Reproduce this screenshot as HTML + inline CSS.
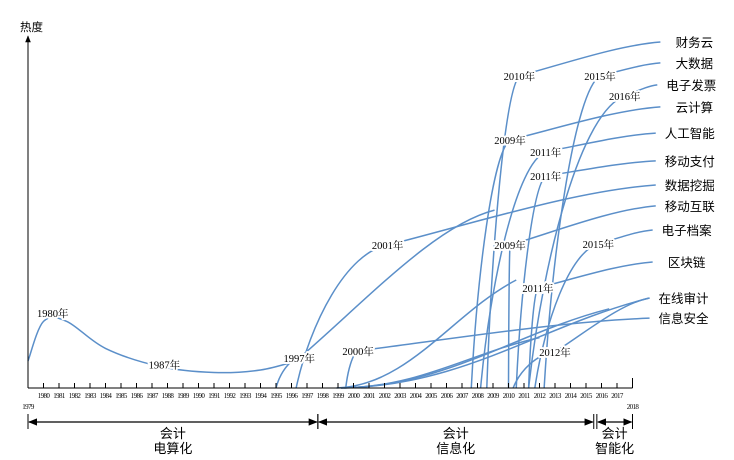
<!DOCTYPE html>
<html><head><meta charset="utf-8">
<style>
html,body{margin:0;padding:0;background:#fff;}
svg{display:block;}
.lbl{font-family:"Liberation Serif","Noto Serif CJK SC","Noto Sans CJK SC",serif;font-size:10.5px;fill:#000;paint-order:stroke;stroke:#fff;stroke-width:4px;stroke-linejoin:round;}
.nm{font-family:"Liberation Sans","Noto Sans CJK SC",sans-serif;font-size:12.5px;fill:#000;}
.yr{font-family:"Liberation Serif",serif;font-size:7px;fill:#000;letter-spacing:-0.6px;}
.ph{font-family:"Liberation Sans","Noto Sans CJK SC",sans-serif;font-size:13px;fill:#000;}
.crv{fill:none;stroke:#5b8fc9;stroke-width:1.5;}
</style></head>
<body>
<svg id="chart" width="734" height="460" viewBox="0 0 734 460" xmlns="http://www.w3.org/2000/svg">
<defs>
<marker id="ah" viewBox="0 0 10 10" refX="9" refY="5" markerWidth="7" markerHeight="7" orient="auto-start-reverse"><path d="M0,1 L10,5 L0,9 z" fill="#000"/></marker>
</defs>
<g id="curves"></g>
<g id="axes"></g>
<g id="labels"></g>
</svg>
<script>
// ---- data ----
const names = ["财务云","大数据","电子发票","云计算","人工智能","移动支付","数据挖掘","移动互联","电子档案","区块链","在线审计","信息安全"];
const startYears = [2008.6,2012.3,2011.3,2007.6,2008.2,2010.5,1996.3,2010.0,2011.7,2011.3,2010.3,1999.5];
const labelYears = [2010.7,2015.9,2017.5,2010.1,2012.4,2012.4,2002.2,2010.1,2015.8,2011.9,2013.0,2000.3];
const labelTexts = ["2010年","2015年","2016年","2009年","2011年","2011年","2001年","2009年","2015年","2011年","2012年","2000年"];
const labelVals = [86.7,86.7,81.1,68.9,65.6,58.9,39.7,39.7,40.0,27.8,10.0,10.3];
const endYears = [2019.8,2019.8,2019.6,2019.8,2019.5,2019.5,2019.5,2019.5,2019.3,2019.3,2019.1,2019.1];
const endVals = [96.1,90.3,84.2,78.1,70.8,63.1,56.4,50.6,43.9,35.0,25.0,19.4];
// 1997 curve
const c97 = {start:1995, labelYear:1996.5, labelVal:8.3, endYear:2009.1, endVal:49.4, text:"1997年"};
// fan lines from baseline
const fanStarts = [1999.2,1999.2,1999.4,1998.9];
const fanEndYears = [2019.1,2016.5,2012.0,2010.5];
const fanEndVals = [25.0,22.0,14.0,30.0];
// early period curve
const earlyYears = [1979,1980,1981.5,1984,1987.5,1991,1994,1996.3];
const earlyVals = [7.5,18.5,18.5,11,6,4.3,5,7.5];
const earlyLabelYears = [1980.6,1987.8];
const earlyLabelVals = [20.8,6.5];
const earlyLabelTexts = ["1980年","1987年"];
// axis ticks
const tickYears = [];
for (let y = 1979; y <= 2018; y++) tickYears.push(y);
const phases = ["电算化","信息化","智能化"];
const phaseStart = [1979,1997.7,2015.7];
const phaseEnd = [1997.7,2015.5,2018];

// ---- scales ----
const X = yr => 28 + (yr - 1979) * 15.5;
const Y = v => 388 - v * 3.6;
const NS = "http://www.w3.org/2000/svg";
const curves = document.getElementById('curves');
const axes = document.getElementById('axes');
const labels = document.getElementById('labels');
function mk(tag, parent, attrs){const e=document.createElementNS(NS,tag);for(const k in attrs)e.setAttribute(k,attrs[k]);parent.appendChild(e);return e;}

function curvePath(sx, lx, ly, ex, ey){
  const sy = 388, dx = lx - sx, dy = sy - ly, d = ex - lx;
  return `M${sx},${sy} C${sx+0.15*dx},${sy-0.45*dy} ${lx-0.45*dx},${ly+0.05*dy} ${lx},${ly} C${lx+0.35*d},${ly-(ly-ey)*0.4} ${ex-0.3*d},${ey+(ly-ey)*0.1} ${ex},${ey}`;
}

names.forEach((n,i)=>{
  const p = mk('path', curves, {d: curvePath(X(startYears[i]), X(labelYears[i]), Y(labelVals[i]), X(endYears[i]), Y(endVals[i])), class:'crv'});
  
  
  const t = mk('text', labels, {x: X(labelYears[i]), y: Y(labelVals[i]) + 4, class:'lbl', 'text-anchor':'middle'});
  t.textContent = labelTexts[i];
  
  
  const nmT = mk('text', labels, {x: X(endYears[i]) + 34, y: Y(endVals[i]) + 5, class:'nm', 'text-anchor':'middle'});
  nmT.textContent = n;
  
  
});
{
  const p = mk('path', curves, {d: curvePath(X(c97.start), X(c97.labelYear), Y(c97.labelVal), X(c97.endYear), Y(c97.endVal)), class:'crv'});
  
  
  const t = mk('text', labels, {x: X(c97.labelYear), y: Y(c97.labelVal)+4, class:'lbl','text-anchor':'middle'});
  t.textContent = c97.text;
  
  
}
fanStarts.forEach((s,i)=>{
  const sx=X(s), ex=X(fanEndYears[i]), ey=Y(fanEndVals[i]);
  const p = mk('path', curves, {d:`M${sx},388 C${sx+(ex-sx)*0.4},386 ${ex-(ex-sx)*0.35},${ey+(388-ey)*0.3} ${ex},${ey}`, class:'crv'});
  
  
});
// early curve (catmull-rom)
{
  const pts = earlyYears.map((y,i)=>[X(y),Y(earlyVals[i])]);
  let d = `M${pts[0][0]},${pts[0][1]}`;
  for (let i=0;i<pts.length-1;i++){
    const p0=pts[i-1]||pts[i], p1=pts[i], p2=pts[i+1], p3=pts[i+2]||p2;
    d += ` C${p1[0]+(p2[0]-p0[0])/6},${p1[1]+(p2[1]-p0[1])/6} ${p2[0]-(p3[0]-p1[0])/6},${p2[1]-(p3[1]-p1[1])/6} ${p2[0]},${p2[1]}`;
  }
  const p = mk('path', curves, {d, class:'crv'});
  
  
  earlyLabelYears.forEach((y,i)=>{
    const t = mk('text', labels, {x:X(y), y:Y(earlyLabelVals[i])+4, class:'lbl','text-anchor':'middle'});
    t.textContent = earlyLabelTexts[i];
    
    
  });
}
// axes
{
  const ya = mk('line', axes, {x1:28,y1:388,x2:28,y2:36,stroke:'#000','stroke-width':1,'marker-end':'url(#ah)'});
  
  
  const yt = mk('text', axes, {x:20,y:31,class:'ph',style:'font-size:11.5px'});
  yt.textContent = '热度';
  
  
  const xa = mk('line', axes, {x1:28,y1:388,x2:X(2018),y2:388,stroke:'#000','stroke-width':1});
  
  
  tickYears.forEach((yr,i)=>{
    const tk = mk('line', axes, {x1:X(yr),y1:388,x2:X(yr),y2:(i===0||i===tickYears.length-1)?378:383,stroke:'#000','stroke-width':1});
    
    
    const edge = (i===0||i===tickYears.length-1);
    const t = mk('text', axes, {x:X(yr), y: edge?409:398, class:'yr','text-anchor':'middle'});
    t.textContent = yr;
    
    
  });
  phases.forEach((ph,i)=>{
    const a=X(phaseStart[i]), b=X(phaseEnd[i]);
    const l = mk('line', axes, {x1:a+1,y1:422,x2:b-1,y2:422,stroke:'#000','stroke-width':1.3,'marker-start':'url(#ah)','marker-end':'url(#ah)'});
    
    
    [a,b].forEach(xx=>{
      const v = mk('line', axes, {x1:xx,y1:414,x2:xx,y2:429,stroke:'#000','stroke-width':1});
      
      
    });
    const cx=(a+b)/2;
    const t1 = mk('text', axes, {x:cx,y:438,class:'ph','text-anchor':'middle'});
    t1.textContent = '会计';
    
    
    const t2 = mk('text', axes, {x:cx,y:453,class:'ph','text-anchor':'middle'});
    t2.textContent = ph;
    
    
  });
}
</script>
</body></html>
